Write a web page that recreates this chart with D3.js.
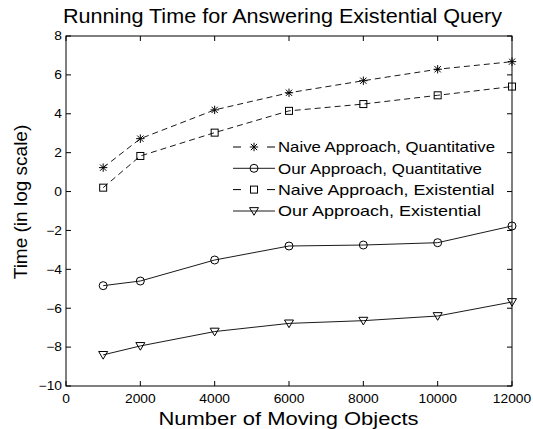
<!DOCTYPE html>
<html><head><meta charset="utf-8">
<script src="https://cdnjs.cloudflare.com/ajax/libs/d3/7.8.5/d3.min.js"></script>
<style>body{margin:0;background:#fff}svg{display:block}text{font-family:"Liberation Sans",Arial,Helvetica,sans-serif;fill:#000}</style>
</head><body>
<script>
const xValues = [1000, 2000, 4000, 6000, 8000, 10000, 12000];
const naiveQuant = [1.23, 2.72, 4.2, 5.08, 5.70, 6.29, 6.68];
const ourQuant = [-4.84, -4.6, -3.52, -2.8, -2.75, -2.63, -1.77];
const naiveExist = [0.2, 1.83, 3.03, 4.15, 4.5, 4.95, 5.4];
const ourExist = [-8.4, -7.94, -7.2, -6.78, -6.64, -6.4, -5.68];
const seriesNames = ["Naive Approach, Quantitative", "Our Approach, Quantitative", "Naive Approach, Existential", "Our Approach, Existential"];
const xTicks = [0, 2000, 4000, 6000, 8000, 10000, 12000];
const yTicks = [-10, -8, -6, -4, -2, 0, 2, 4, 6, 8];
const titleText = "Running Time for Answering Existential Query";
const xLabel = "Number of Moving Objects";
const yLabel = "Time (in log scale)";

const W = 533, H = 429;
const L = 66, R = 512, T = 36, B = 386;
const svg = d3.select("body").append("svg").attr("width", W).attr("height", H);
const x = d3.scaleLinear().domain([0, 12000]).range([L, R]);
const y = d3.scaleLinear().domain([-10, 8]).range([B, T]);
const SX = 1.15;

svg.append("rect").attr("x", L).attr("y", T).attr("width", R - L).attr("height", B - T)
  .attr("fill", "none").attr("stroke", "#000").attr("stroke-width", 1);

const tk = 5;
const tg = svg.append("g").attr("stroke", "#000").attr("stroke-width", 1);
xTicks.forEach(v => {
  tg.append("line").attr("x1", x(v)).attr("x2", x(v)).attr("y1", B).attr("y2", B - tk);
  tg.append("line").attr("x1", x(v)).attr("x2", x(v)).attr("y1", T).attr("y2", T + tk);
});
yTicks.forEach(v => {
  tg.append("line").attr("x1", L).attr("x2", L + tk).attr("y1", y(v)).attr("y2", y(v));
  tg.append("line").attr("x1", R).attr("x2", R - tk).attr("y1", y(v)).attr("y2", y(v));
});

function fmt(v) { return (v < 0 ? "\u2212" : "") + Math.abs(v); }
xTicks.forEach(v => {
  svg.append("text").attr("transform", `translate(${x(v)},403) scale(${SX},1)`)
    .attr("text-anchor", "middle").attr("font-size", 12).text(fmt(v));
});
yTicks.forEach(v => {
  svg.append("text").attr("transform", `translate(62,${y(v)}) scale(${SX},1)`)
    .attr("text-anchor", "end").attr("dy", "0.36em").attr("font-size", 12).text(fmt(v));
});

svg.append("text").attr("x", 63).attr("y", 23.3).attr("font-size", 20)
  .attr("textLength", 439).attr("lengthAdjust", "spacingAndGlyphs").text(titleText);
svg.append("text").attr("x", 158.5).attr("y", 425).attr("font-size", 18)
  .attr("textLength", 260).attr("lengthAdjust", "spacingAndGlyphs").text(xLabel);
svg.append("text").attr("transform", "translate(27,202) rotate(-90)")
  .attr("text-anchor", "middle").attr("font-size", 19).text(yLabel);

function drawMarker(g, kind, cx, cy) {
  if (kind === "star") {
    const s = 4.2;
    const p = g.append("g").attr("stroke", "#000").attr("stroke-width", 1);
    p.append("line").attr("x1", cx - s).attr("x2", cx + s).attr("y1", cy).attr("y2", cy);
    p.append("line").attr("x1", cx).attr("x2", cx).attr("y1", cy - s).attr("y2", cy + s);
    const d = s * 0.75;
    p.append("line").attr("x1", cx - d).attr("x2", cx + d).attr("y1", cy - d).attr("y2", cy + d);
    p.append("line").attr("x1", cx - d).attr("x2", cx + d).attr("y1", cy + d).attr("y2", cy - d);
  } else if (kind === "circle") {
    g.append("circle").attr("cx", cx).attr("cy", cy).attr("r", 4).attr("fill", "none")
      .attr("stroke", "#000").attr("stroke-width", 1);
  } else if (kind === "square") {
    g.append("rect").attr("x", cx - 3.5).attr("y", cy - 3.5).attr("width", 7).attr("height", 7)
      .attr("fill", "none").attr("stroke", "#000").attr("stroke-width", 1);
  } else if (kind === "tri") {
    const s = 4.5;
    g.append("path").attr("d", `M${cx - s},${cy - s * 0.75}L${cx + s},${cy - s * 0.75}L${cx},${cy + s * 0.95}Z`)
      .attr("fill", "none").attr("stroke", "#000").attr("stroke-width", 1);
  }
}

const series = [
  { vals: naiveQuant, dash: "6,4", marker: "star" },
  { vals: ourQuant, dash: null, marker: "circle" },
  { vals: naiveExist, dash: "6,4", marker: "square" },
  { vals: ourExist, dash: null, marker: "tri" }
];
const line = d3.line().x((d, i) => x(xValues[i])).y(d => y(d));
series.forEach(s => {
  const p = svg.append("path").datum(s.vals).attr("d", line).attr("fill", "none")
    .attr("stroke", "#000").attr("stroke-width", 0.9);
  if (s.dash) p.attr("stroke-dasharray", s.dash);
  const g = svg.append("g");
  s.vals.forEach((v, i) => drawMarker(g, s.marker, x(xValues[i]), y(v)));
});

const legRows = [147, 168.3, 189.6, 211];
const legW = [217, 204, 216.5, 203];
series.forEach((s, i) => {
  const cy = legRows[i];
  const g = svg.append("g");
  if (s.dash) {
    g.append("line").attr("x1", 233).attr("x2", 241).attr("y1", cy).attr("y2", cy).attr("stroke", "#000");
    g.append("line").attr("x1", 267).attr("x2", 275).attr("y1", cy).attr("y2", cy).attr("stroke", "#000");
  } else {
    g.append("line").attr("x1", 233).attr("x2", 275).attr("y1", cy).attr("y2", cy).attr("stroke", "#000").attr("stroke-width", 0.9);
  }
  drawMarker(g, s.marker, 254, cy);
  svg.append("text").attr("x", 278).attr("y", cy).attr("dy", "0.36em").attr("font-size", 14.5)
    .attr("textLength", legW[i]).attr("lengthAdjust", "spacingAndGlyphs").text(seriesNames[i]);
});
</script>
</body></html>
